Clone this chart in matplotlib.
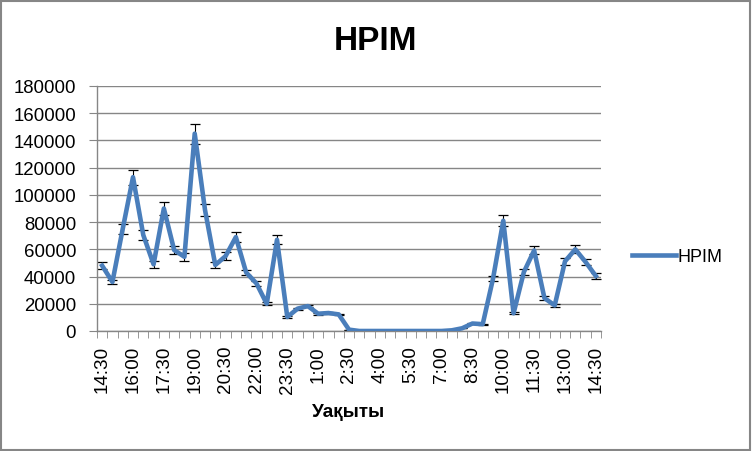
import matplotlib
matplotlib.use("Agg")
import matplotlib.pyplot as plt
from matplotlib.patches import Rectangle
import numpy as np

plt.rcParams['font.family'] = ['Liberation Sans', 'DejaVu Sans']

times = ["14:30", "15:00", "15:30", "16:00", "16:30", "17:00", "17:30", "18:00", "18:30",
         "19:00", "19:30", "20:00", "20:30", "21:00", "21:30", "22:00", "22:30", "23:00",
         "23:30", "0:00", "0:30", "1:00", "1:30", "2:00", "2:30", "3:00", "3:30", "4:00",
         "4:30", "5:00", "5:30", "6:00", "6:30", "7:00", "7:30", "8:00", "8:30", "9:00",
         "9:30", "10:00", "10:30", "11:00", "11:30", "12:00", "12:30", "13:00", "13:30",
         "14:00", "14:30"]
hpim = [48000, 36000, 75000, 113000, 70500, 49000, 90000, 59500, 54500,
        145000, 89000, 48500, 55000, 69000, 43000, 35000, 20000, 67000,
        10300, 16400, 18300, 12700, 13200, 12200, 1000, 0, 0, 0,
        0, 0, 0, 0, 0, 0, 500, 2000, 5500, 5000,
        38400, 81000, 13000, 43300, 59200, 24200, 18800, 51200, 60000,
        50700, 40400]
error_pct = 0.05
series_name = "HPIM"
title = "HPIM"
xlabel = "Уақыты"
yticks = list(range(0, 180001, 20000))

W, H = 752, 452
fig = plt.figure(figsize=(W / 100, H / 100), dpi=100)
ax = fig.add_axes([97 / W, 1 - 332 / H, (601 - 97) / W, (332 - 87) / H])

x = np.arange(len(times))
vals = np.array(hpim, dtype=float)
color = '#4A7EBB'
line, = ax.plot(x, vals, color=color, lw=3.3, solid_joinstyle='round', zorder=3, label=series_name)
ax.errorbar(x, vals, yerr=vals * error_pct, fmt='none', ecolor='black', elinewidth=0.8,
            capsize=3.5, capthick=0.9, zorder=2.5)

ax.set_xlim(-0.5, len(times) - 0.5)
ax.set_ylim(0, 180000)
ax.set_yticks(yticks)
ax.set_yticklabels([str(v) for v in yticks], fontsize=13.4)
ax.yaxis.grid(True, color='#868686', lw=1.0)
ax.set_axisbelow(True)

major = list(range(0, len(times), 3))
ax.set_xticks(major)
ax.set_xticklabels([times[i] for i in major], rotation=90, fontsize=13.6)
ax.set_xticks(np.arange(-0.5, len(times), 1.0), minor=True)
ax.tick_params(axis='x', which='major', length=0, pad=10)
ax.tick_params(axis='x', which='minor', length=5, color='#868686', direction='out')
ax.tick_params(axis='y', length=6, color='#868686', direction='out', pad=9)

for s in ['top', 'right']:
    ax.spines[s].set_visible(False)
for s in ['left', 'bottom']:
    ax.spines[s].set_color('#868686')
    ax.spines[s].set_linewidth(1.0)

fig.text(349 / W, 1 - 413 / H, xlabel, ha='center', va='center', fontsize=13.6, fontweight='bold')
fig.text(376 / W, 1 - 42 / H, title, ha='center', va='center', fontsize=24, fontweight='bold')

leg = fig.legend(handles=[line], labels=[series_name], loc='center left',
                 bbox_to_anchor=(616 / W, 1 - 258 / H), frameon=False, fontsize=13,
                 handlelength=2.4, handletextpad=0.1)

fig.patches.append(Rectangle((1 / W, 1 / H), (W - 3) / W, (H - 3) / H, transform=fig.transFigure,
                             fill=False, edgecolor='#868686', lw=1.5))

fig.savefig('out.png', dpi=100, facecolor='white')
